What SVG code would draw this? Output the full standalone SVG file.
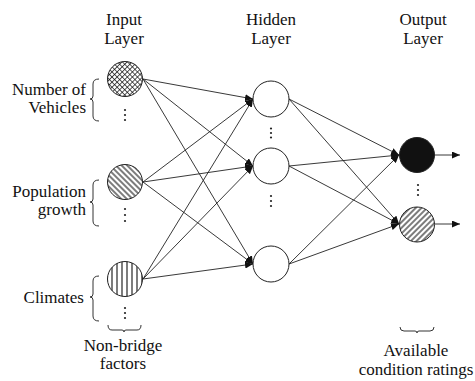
<svg xmlns="http://www.w3.org/2000/svg" width="475" height="381" viewBox="0 0 475 381" font-family="Liberation Serif, Times New Roman, serif" font-size="17">
<style>
.m{text-anchor:middle}
.e{text-anchor:end}
text{fill:#111}
.node{stroke:#222;stroke-width:1}
.conn line{stroke:#222;stroke-width:0.9;marker-end:url(#arr)}
.brace{fill:none;stroke:#333;stroke-width:1}
.dot{fill:#222}
</style>
<defs>
<marker id="arr" markerUnits="userSpaceOnUse" markerWidth="9" markerHeight="7" refX="8" refY="3.5" orient="auto">
<path d="M0,0 L8,3.5 L0,7 z" fill="#111"/>
</marker>
<pattern id="cross" width="3.6" height="3.6" patternUnits="userSpaceOnUse" patternTransform="rotate(45)">
<rect width="3.6" height="3.6" fill="#fff"/>
<path d="M0,0 H3.6 M0,0 V3.6" stroke="#111" stroke-width="1.4"/>
</pattern>
<pattern id="back" width="4" height="4" patternUnits="userSpaceOnUse" patternTransform="rotate(-45)">
<rect width="4" height="4" fill="#fff"/>
<path d="M1,0 V4" stroke="#111" stroke-width="1.1"/>
</pattern>
<pattern id="fwd" width="4" height="4" patternUnits="userSpaceOnUse" patternTransform="rotate(45)">
<rect width="4" height="4" fill="#fff"/>
<path d="M1,0 V4" stroke="#111" stroke-width="1.1"/>
</pattern>
<pattern id="vert" width="5" height="5" patternUnits="userSpaceOnUse" x="1">
<rect width="5" height="5" fill="#fff"/>
<path d="M1,0 V5" stroke="#111" stroke-width="1.1"/>
</pattern>
</defs>

<g id="headers">
<text class="m" x="124" y="25">Input</text>
<text class="m" x="124" y="44">Layer</text>
<text class="m" x="271" y="25">Hidden</text>
<text class="m" x="271" y="44">Layer</text>
<text class="m" x="423" y="25">Output</text>
<text class="m" x="423" y="44">Layer</text>
</g>

<g id="connectors" class="conn">
<line x1="143" y1="79" x2="253" y2="99"/>
<line x1="143" y1="79" x2="253" y2="166"/>
<line x1="143" y1="79" x2="253" y2="264"/>
<line x1="143" y1="182" x2="253" y2="99"/>
<line x1="143" y1="182" x2="253" y2="166"/>
<line x1="143" y1="182" x2="253" y2="264"/>
<line x1="143" y1="279" x2="253" y2="99"/>
<line x1="143" y1="279" x2="253" y2="166"/>
<line x1="143" y1="279" x2="253" y2="264"/>
<line x1="289" y1="99" x2="399" y2="155"/>
<line x1="289" y1="99" x2="399" y2="224"/>
<line x1="289" y1="166" x2="399" y2="155"/>
<line x1="289" y1="166" x2="399" y2="224"/>
<line x1="289" y1="264" x2="399" y2="155"/>
<line x1="289" y1="264" x2="399" y2="224"/>
<line x1="435" y1="155" x2="460" y2="155"/>
<line x1="435" y1="224" x2="460" y2="224"/>
</g>

<g id="input-vehicles">
<circle class="node" cx="125" cy="79" r="17.5" fill="url(#cross)"/>
<text class="e" x="86" y="95">Number of</text>
<text class="e" x="86" y="113">Vehicles</text>
<path class="brace" d="M99,79 Q93,79 93,84 L93,96 Q93,99 90,99 Q93,99 93,102 L93,116 Q93,121 99,121"/>
<circle class="dot" cx="125" cy="110" r="1.1"/><circle class="dot" cx="125" cy="115" r="1.1"/><circle class="dot" cx="125" cy="120" r="1.1"/>
</g>

<g id="input-population">
<circle class="node" cx="125" cy="182" r="17.5" fill="url(#back)"/>
<text class="e" x="86" y="197">Population</text>
<text class="e" x="86" y="215">growth</text>
<path class="brace" d="M99,180 Q93,180 93,185 L93,199 Q93,202 90,202 Q93,202 93,205 L93,221 Q93,226 99,226"/>
<circle class="dot" cx="125" cy="209" r="1.1"/><circle class="dot" cx="125" cy="215" r="1.1"/><circle class="dot" cx="125" cy="221" r="1.1"/>
</g>

<g id="input-climates">
<circle class="node" cx="125" cy="279" r="17.5" fill="url(#vert)"/>
<text class="e" x="84" y="303">Climates</text>
<path class="brace" d="M99,276 Q93,276 93,281 L93,294 Q93,297 90,297 Q93,297 93,300 L93,316 Q93,321 99,321"/>
<circle class="dot" cx="125" cy="308" r="1.1"/><circle class="dot" cx="125" cy="313" r="1.1"/><circle class="dot" cx="125" cy="318" r="1.1"/>
</g>

<g id="input-group-label">
<path class="brace" d="M108,325 Q108,330 112,330 L122,330 Q124,330 124,332 Q124,330 126,330 L137,330 Q141,330 141,325"/>
<text class="m" x="123" y="351">Non-bridge</text>
<text class="m" x="123" y="369">factors</text>
</g>

<g id="hidden-1"><circle class="node" cx="271" cy="99" r="18" fill="#fff"/></g>
<g id="hidden-2"><circle class="node" cx="271" cy="166" r="18" fill="#fff"/></g>
<g id="hidden-3"><circle class="node" cx="271" cy="264" r="18" fill="#fff"/></g>
<g id="hidden-dots">
<circle class="dot" cx="271" cy="128.5" r="1.1"/><circle class="dot" cx="271" cy="133" r="1.1"/><circle class="dot" cx="271" cy="137.5" r="1.1"/>
<circle class="dot" cx="271" cy="196" r="1.1"/><circle class="dot" cx="271" cy="201" r="1.1"/><circle class="dot" cx="271" cy="206" r="1.1"/>
</g>

<g id="output-1"><circle class="node" cx="417" cy="155" r="17.5" fill="#111"/></g>
<g id="output-2"><circle class="node" cx="417" cy="224.5" r="17.5" fill="url(#fwd)"/></g>
<g id="output-dots">
<circle class="dot" cx="418" cy="185" r="1.1"/><circle class="dot" cx="418" cy="190" r="1.1"/><circle class="dot" cx="418" cy="195" r="1.1"/>
</g>

<g id="output-group-label">
<path class="brace" d="M400,327 Q400,331 404,331 L415,331 Q417,331 417,333 Q417,331 419,331 L430,331 Q434,331 434,327"/>
<text class="m" x="416" y="356">Available</text>
<text class="m" x="416" y="375">condition ratings</text>
</g>
</svg>
